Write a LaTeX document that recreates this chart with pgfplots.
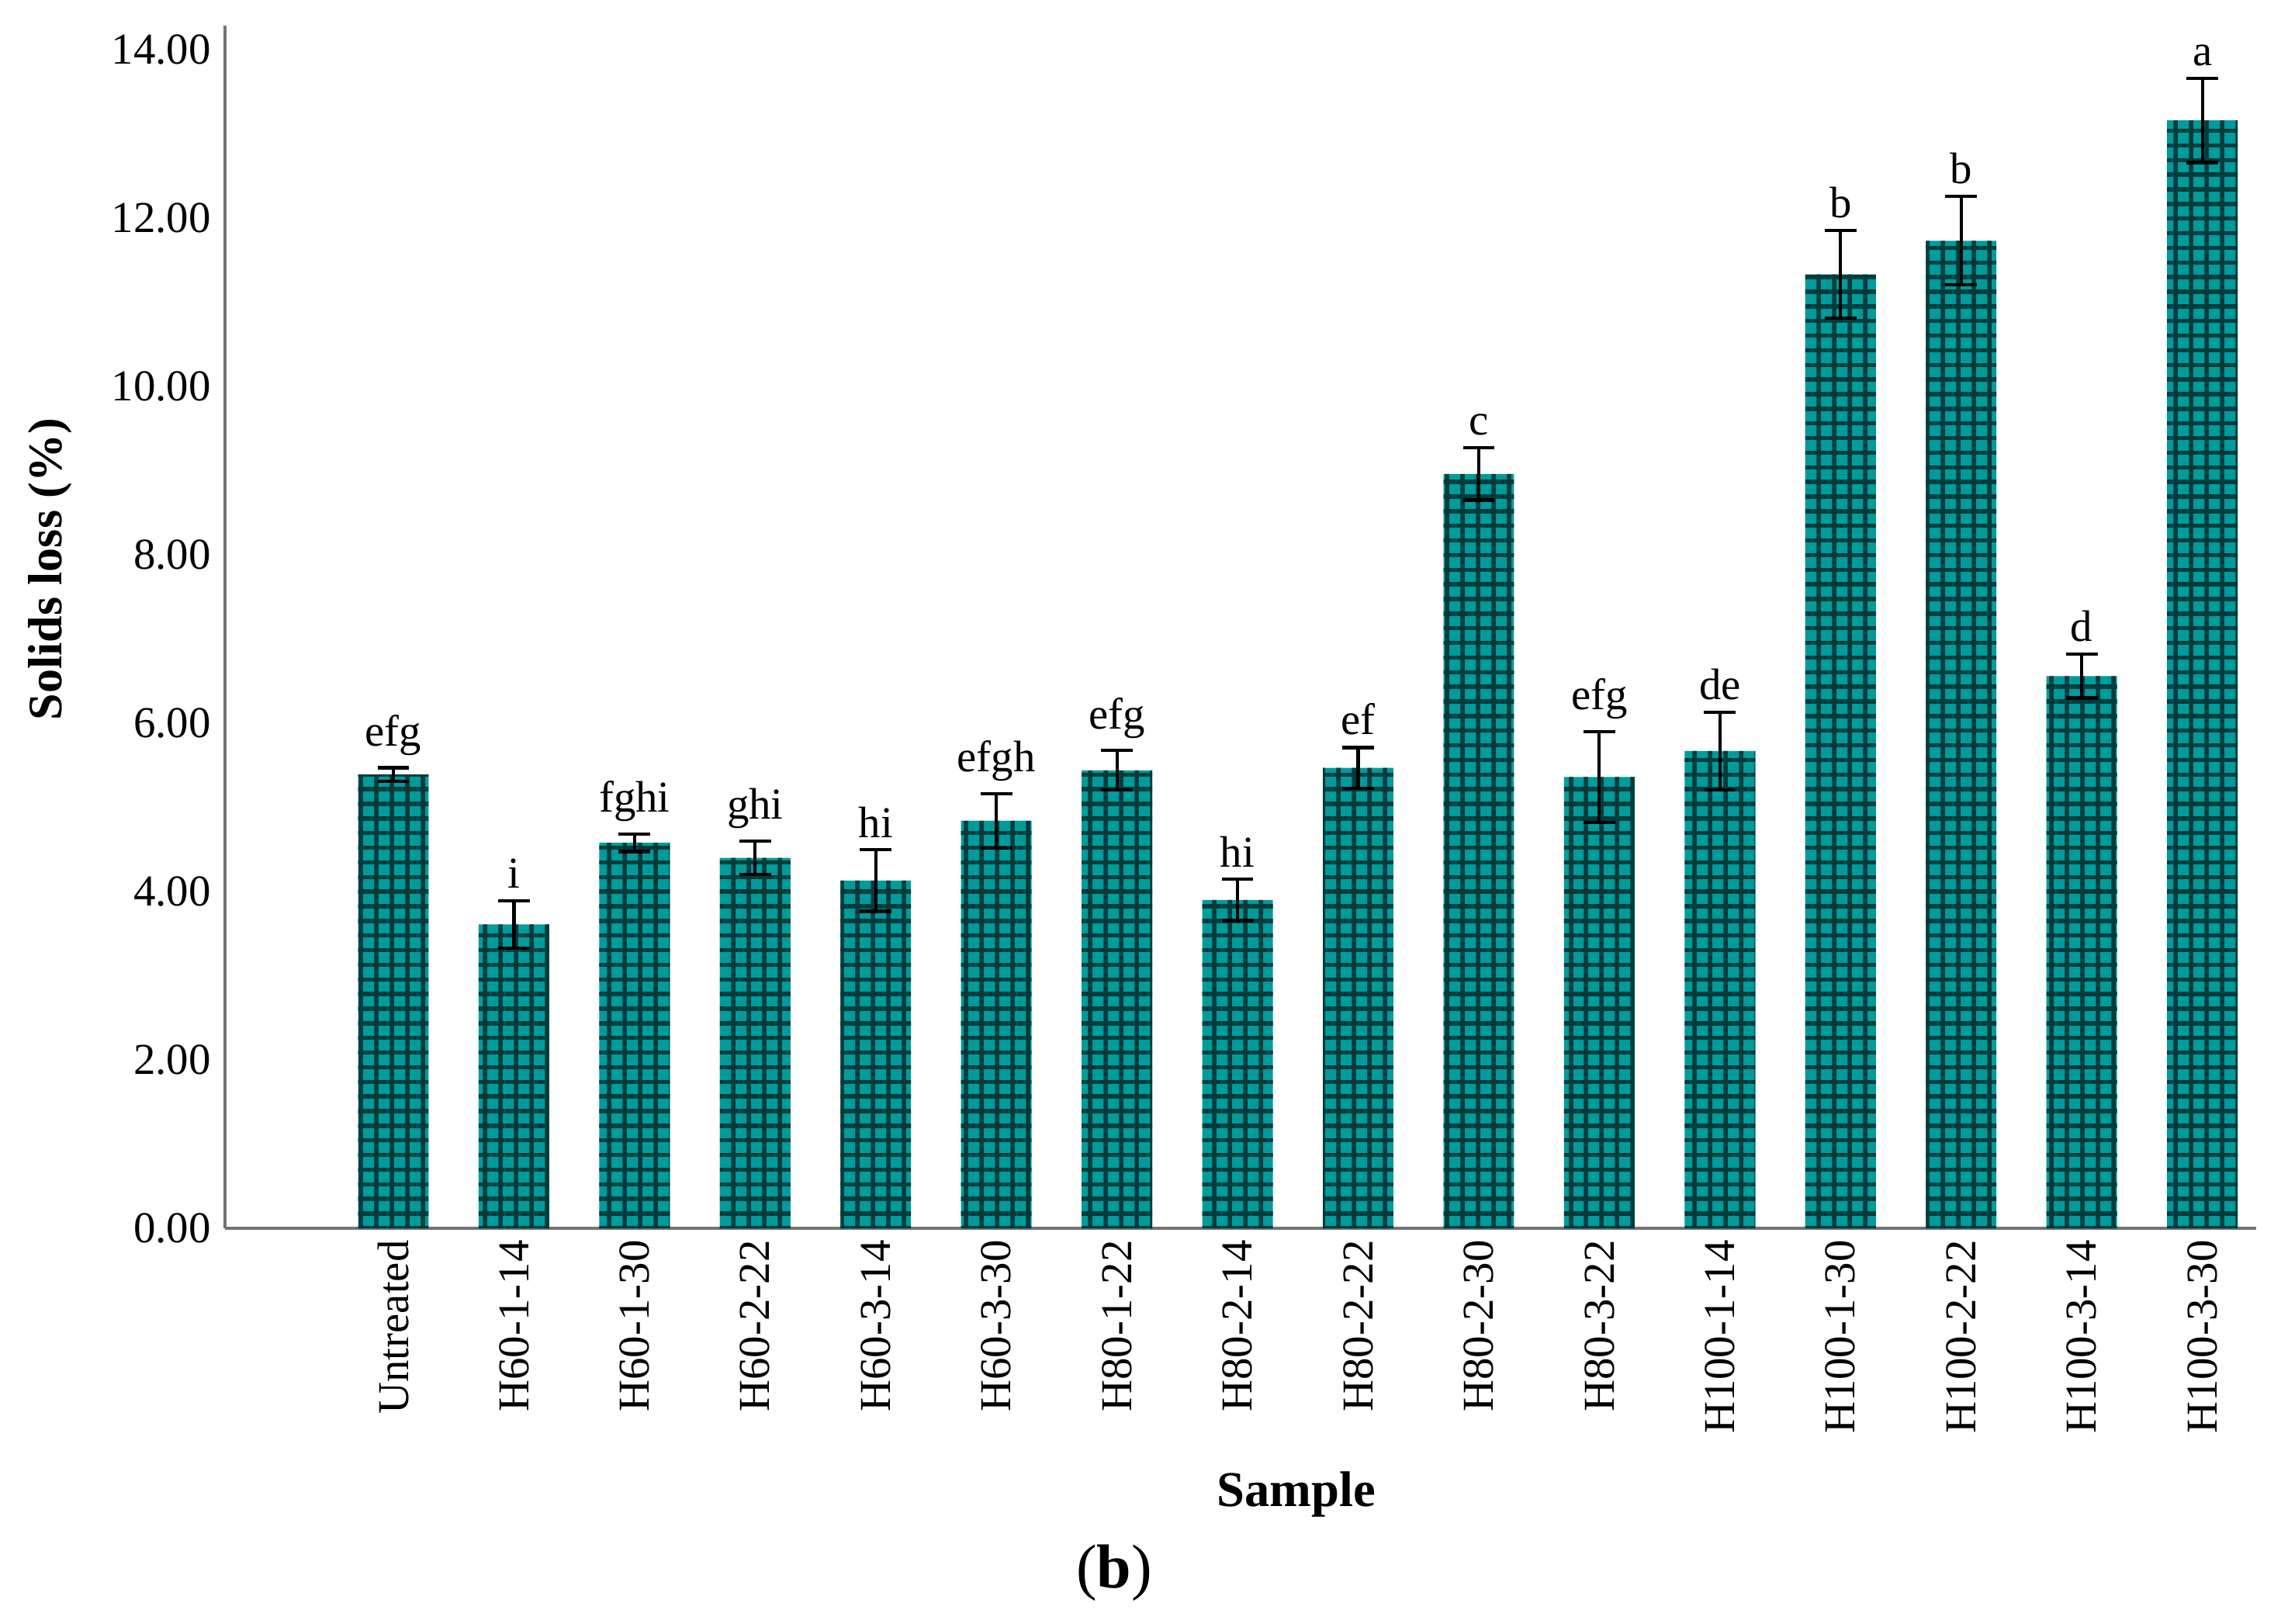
\documentclass[border=0pt]{standalone}
\usepackage{pgfplots}
\pgfplotsset{compat=1.18}
\usepackage{pgfplotstable}
\usepackage{fontspec}
\setmainfont{Liberation Serif}
\usetikzlibrary{patterns.meta}
\definecolor{barteal}{RGB}{0,155,155}
\definecolor{gridteal}{RGB}{0,60,60}

\pgfplotstableread{
x v e lab
0 5.39 0.08 efg
1 3.61 0.28 i
2 4.58 0.105 fghi
3 4.40 0.20 ghi
4 4.13 0.365 hi
5 4.84 0.32 efgh
6 5.44 0.235 efg
7 3.90 0.245 hi
8 5.47 0.24 ef
9 8.96 0.31 c
10 5.36 0.54 efg
11 5.67 0.46 de
12 11.33 0.52 b
13 11.73 0.525 b
14 6.56 0.26 d
15 13.16 0.50 a
}\datatable

\begin{document}
\begin{tikzpicture}
\begin{axis}[
  at={(0,0)}, anchor=south west,
  scale only axis,
  width=17.81cm, height=10.544cm,
  xmin=-1.396, xmax=15.447,
  ymin=0, ymax=14.286,
  axis lines*=left,
  axis line style={draw=black!55, line width=0.8pt},
  tick style={draw=none},
  xtick={0,...,15},
  xticklabels={Untreated,H60-1-14,H60-1-30,H60-2-22,H60-3-14,H60-3-30,H80-1-22,H80-2-14,H80-2-22,H80-2-30,H80-3-22,H100-1-14,H100-1-30,H100-2-22,H100-3-14,H100-3-30},
  xticklabel style={rotate=90, anchor=east, inner sep=0pt, inner xsep=2.8pt, font=\fontsize{11}{13}\selectfont},
  ytick={0,2,...,14},
  yticklabel style={font=\fontsize{11}{13}\selectfont, /pgf/number format/.cd, fixed, fixed zerofill, precision=2, assume math mode=true},
  ylabel={\textbf{Solids loss (\%)}},
  ylabel style={at={(axis description cs:-0.0803,0.548)}, anchor=base, rotate=0, font=\fontsize{12}{14}\selectfont},
  xlabel={\textbf{Sample}},
  xlabel style={at={(axis description cs:0.5275,-0.231)}, anchor=base, font=\fontsize{12.5}{15}\selectfont},
  clip=false,
]
\addplot[ybar, bar width=0.585, draw=none, fill=barteal,
  postaction={pattern={Lines[angle=0,distance=3.65pt,line width=1.05pt]}, pattern color=gridteal},
  postaction={pattern={Lines[angle=90,distance=3.85pt,line width=1.05pt]}, pattern color=gridteal},
  error bars/.cd, y dir=both, y explicit, error mark=-,
  error bar style={line width=0.8pt, black},
  error mark options={rotate=90, mark size=3.95pt, line width=0.8pt, black}]
  table[x=x, y=v, y error=e] {\datatable};
\addplot[draw=none, mark=none, nodes near coords, point meta=explicit symbolic,
  nodes near coords style={anchor=south, inner sep=0pt, yshift=2.9pt, text=black, font=\fontsize{11}{13}\selectfont}]
  table[x=x, y expr=\thisrow{v}+\thisrow{e}, meta=lab] {\datatable};
\node[anchor=base, font=\fontsize{15.5}{18}\selectfont] at (rel axis cs:0.4377,-0.299) {(\textbf{b})};
\end{axis}
\pgfresetboundingbox
\path[use as bounding box] (-1.9728,-3.4626) rectangle (18.0272,10.7687);
\end{tikzpicture}
\end{document}
